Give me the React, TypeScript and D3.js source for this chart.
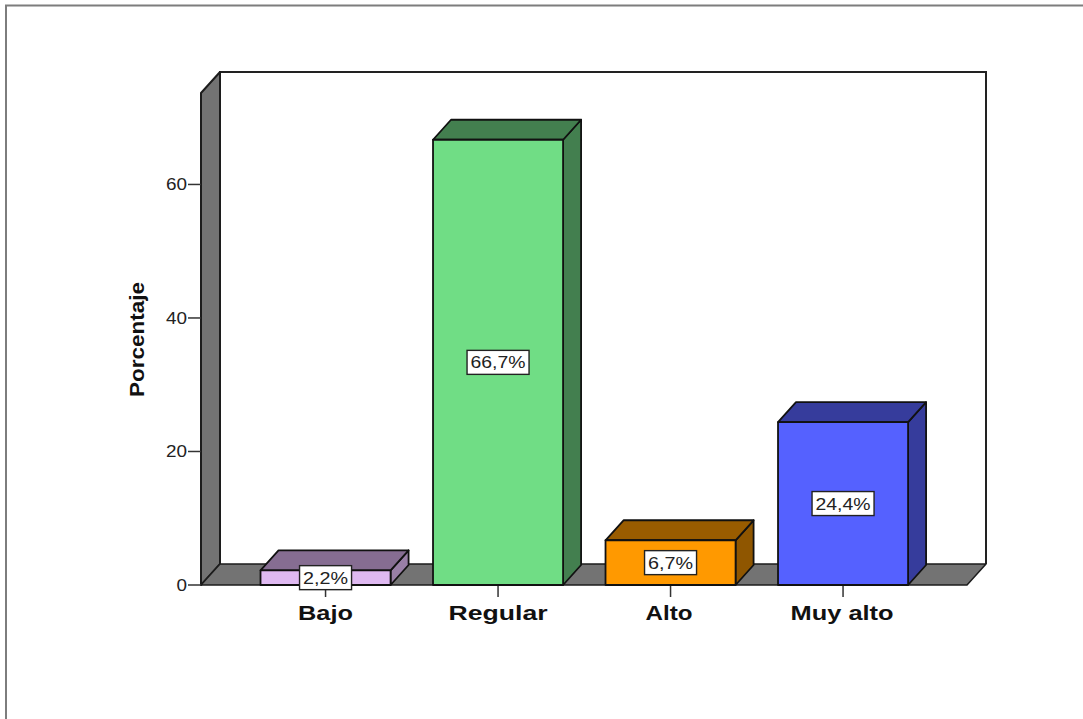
import React from "react";
import * as d3 from "d3";

const categories = ["Bajo", "Regular", "Alto", "Muy alto"];
const percentages = [2.2, 66.7, 6.7, 24.4];
const valueLabels = ["2,2%", "66,7%", "6,7%", "24,4%"];
const yTicks = [0, 20, 40, 60];
const frontColors = ["#dfb9f1", "#70dd85", "#ff9900", "#5561ff"];
const topColors = ["#866d92", "#437f4f", "#995c00", "#363c9c"];
const sideColors = ["#997fa6", "#437f4f", "#8f5600", "#363c9c"];
const categoryLabelWidths = [55, 99, 47, 103];
const categoryLabelShifts = [0, 0, -1.5, -1];

const WIDTH = 1083;
const HEIGHT = 719;
const FONT = "'Liberation Sans', Arial, sans-serif";

const y = d3.scaleLinear().domain([0, 73.7]).range([585, 93]);
const x = d3
  .scaleBand<string>()
  .domain(categories)
  .range([239.3, 929.3])
  .paddingInner(0.246)
  .paddingOuter(0.123);

const poly = (pts: [number, number][]) => (d3.line()(pts) ?? "") + "Z";

export default function App() {
  const floorY = y(0);
  const topY = y(73.7);
  const wallX0 = 201;
  const wallX1 = 967;
  const wallDx = 19;
  const wallDy = 21;
  const barDx = 18;
  const barDy = 20;
  const bw = x.bandwidth();

  return (
    <svg
      width={WIDTH}
      height={HEIGHT}
      viewBox={`0 0 ${WIDTH} ${HEIGHT}`}
      style={{ position: "absolute", left: 0, top: 0, background: "#fff" }}
    >
      {/* outer chart frame: only the top and left edges are in view */}
      <path d={`M6,${HEIGHT}V5.5H${WIDTH}`} fill="none" stroke="#7d7d7d" strokeWidth={2} />

      {/* back wall */}
      <path
        d={`M${wallX0 + wallDx},${floorY - wallDy}V${topY - wallDy}H${wallX1 + wallDx}V${floorY - wallDy}`}
        fill="#fff"
        stroke="#222"
        strokeWidth={2}
      />
      {/* left wall */}
      <path
        d={poly([
          [wallX0, floorY],
          [wallX0, topY],
          [wallX0 + wallDx, topY - wallDy],
          [wallX0 + wallDx, floorY - wallDy],
        ])}
        fill="#737373"
        stroke="#1c1c1c"
        strokeWidth={2}
        strokeLinejoin="round"
      />
      {/* floor */}
      <path
        d={poly([
          [wallX0, floorY],
          [wallX0 + wallDx, floorY - wallDy],
          [wallX1 + wallDx, floorY - wallDy],
          [wallX1, floorY],
        ])}
        fill="#737373"
        stroke="#1c1c1c"
        strokeWidth={1.5}
        strokeLinejoin="round"
      />

      {/* value axis */}
      {yTicks.map((t) => (
        <g key={t}>
          <line x1={188} x2={wallX0} y1={y(t)} y2={y(t)} stroke="#333" strokeWidth={1.5} />
          <text
            x={187}
            y={y(t) + 6}
            textAnchor="end"
            fontFamily={FONT}
            fontSize={16}
            fill="#222"
            textLength={t === 0 ? 10.5 : 21}
            lengthAdjust="spacingAndGlyphs"
          >
            {t}
          </text>
        </g>
      ))}
      <text
        transform="translate(144,339.5) rotate(-90)"
        textAnchor="middle"
        fontFamily={FONT}
        fontSize={21}
        fontWeight="bold"
        fill="#111"
        textLength={115}
        lengthAdjust="spacingAndGlyphs"
      >
        Porcentaje
      </text>

      {/* category ticks and labels */}
      {categories.map((c, i) => {
        const cx = (x(c) ?? 0) + bw / 2;
        return (
          <g key={c}>
            <line x1={cx} x2={cx} y1={floorY} y2={597} stroke="#333" strokeWidth={1.5} />
            <text
              x={cx + categoryLabelShifts[i]}
              y={619.5}
              textAnchor="middle"
              fontFamily={FONT}
              fontSize={21}
              fontWeight="bold"
              fill="#111"
              textLength={categoryLabelWidths[i]}
              lengthAdjust="spacingAndGlyphs"
            >
              {c}
            </text>
          </g>
        );
      })}

      {/* bars */}
      {categories.map((c, i) => {
        const x0 = x(c) ?? 0;
        const x1 = x0 + bw;
        const yTop = y(percentages[i]);
        return (
          <g key={c} stroke="#111" strokeWidth={1.8} strokeLinejoin="round">
            <path
              d={poly([
                [x1, floorY],
                [x1, yTop],
                [x1 + barDx, yTop - barDy],
                [x1 + barDx, floorY - barDy],
              ])}
              fill={sideColors[i]}
            />
            <path
              d={poly([
                [x0, yTop],
                [x0 + barDx, yTop - barDy],
                [x1 + barDx, yTop - barDy],
                [x1, yTop],
              ])}
              fill={topColors[i]}
            />
            <rect x={x0} y={yTop} width={bw} height={floorY - yTop} fill={frontColors[i]} />
          </g>
        );
      })}

      {/* value labels centred on each bar's front face */}
      {categories.map((c, i) => {
        const cx = (x(c) ?? 0) + bw / 2;
        const cy = y(percentages[i] / 2);
        const w = valueLabels[i].length * 10 + 12;
        return (
          <g key={c}>
            <rect
              x={cx - w / 2}
              y={cy - 12}
              width={w}
              height={24}
              fill="#fff"
              stroke="#222"
              strokeWidth={1.4}
            />
            <text
              x={cx}
              y={cy + 6}
              textAnchor="middle"
              fontFamily={FONT}
              fontSize={17}
              fill="#222"
              textLength={w - 7}
              lengthAdjust="spacingAndGlyphs"
            >
              {valueLabels[i]}
            </text>
          </g>
        );
      })}
    </svg>
  );
}
